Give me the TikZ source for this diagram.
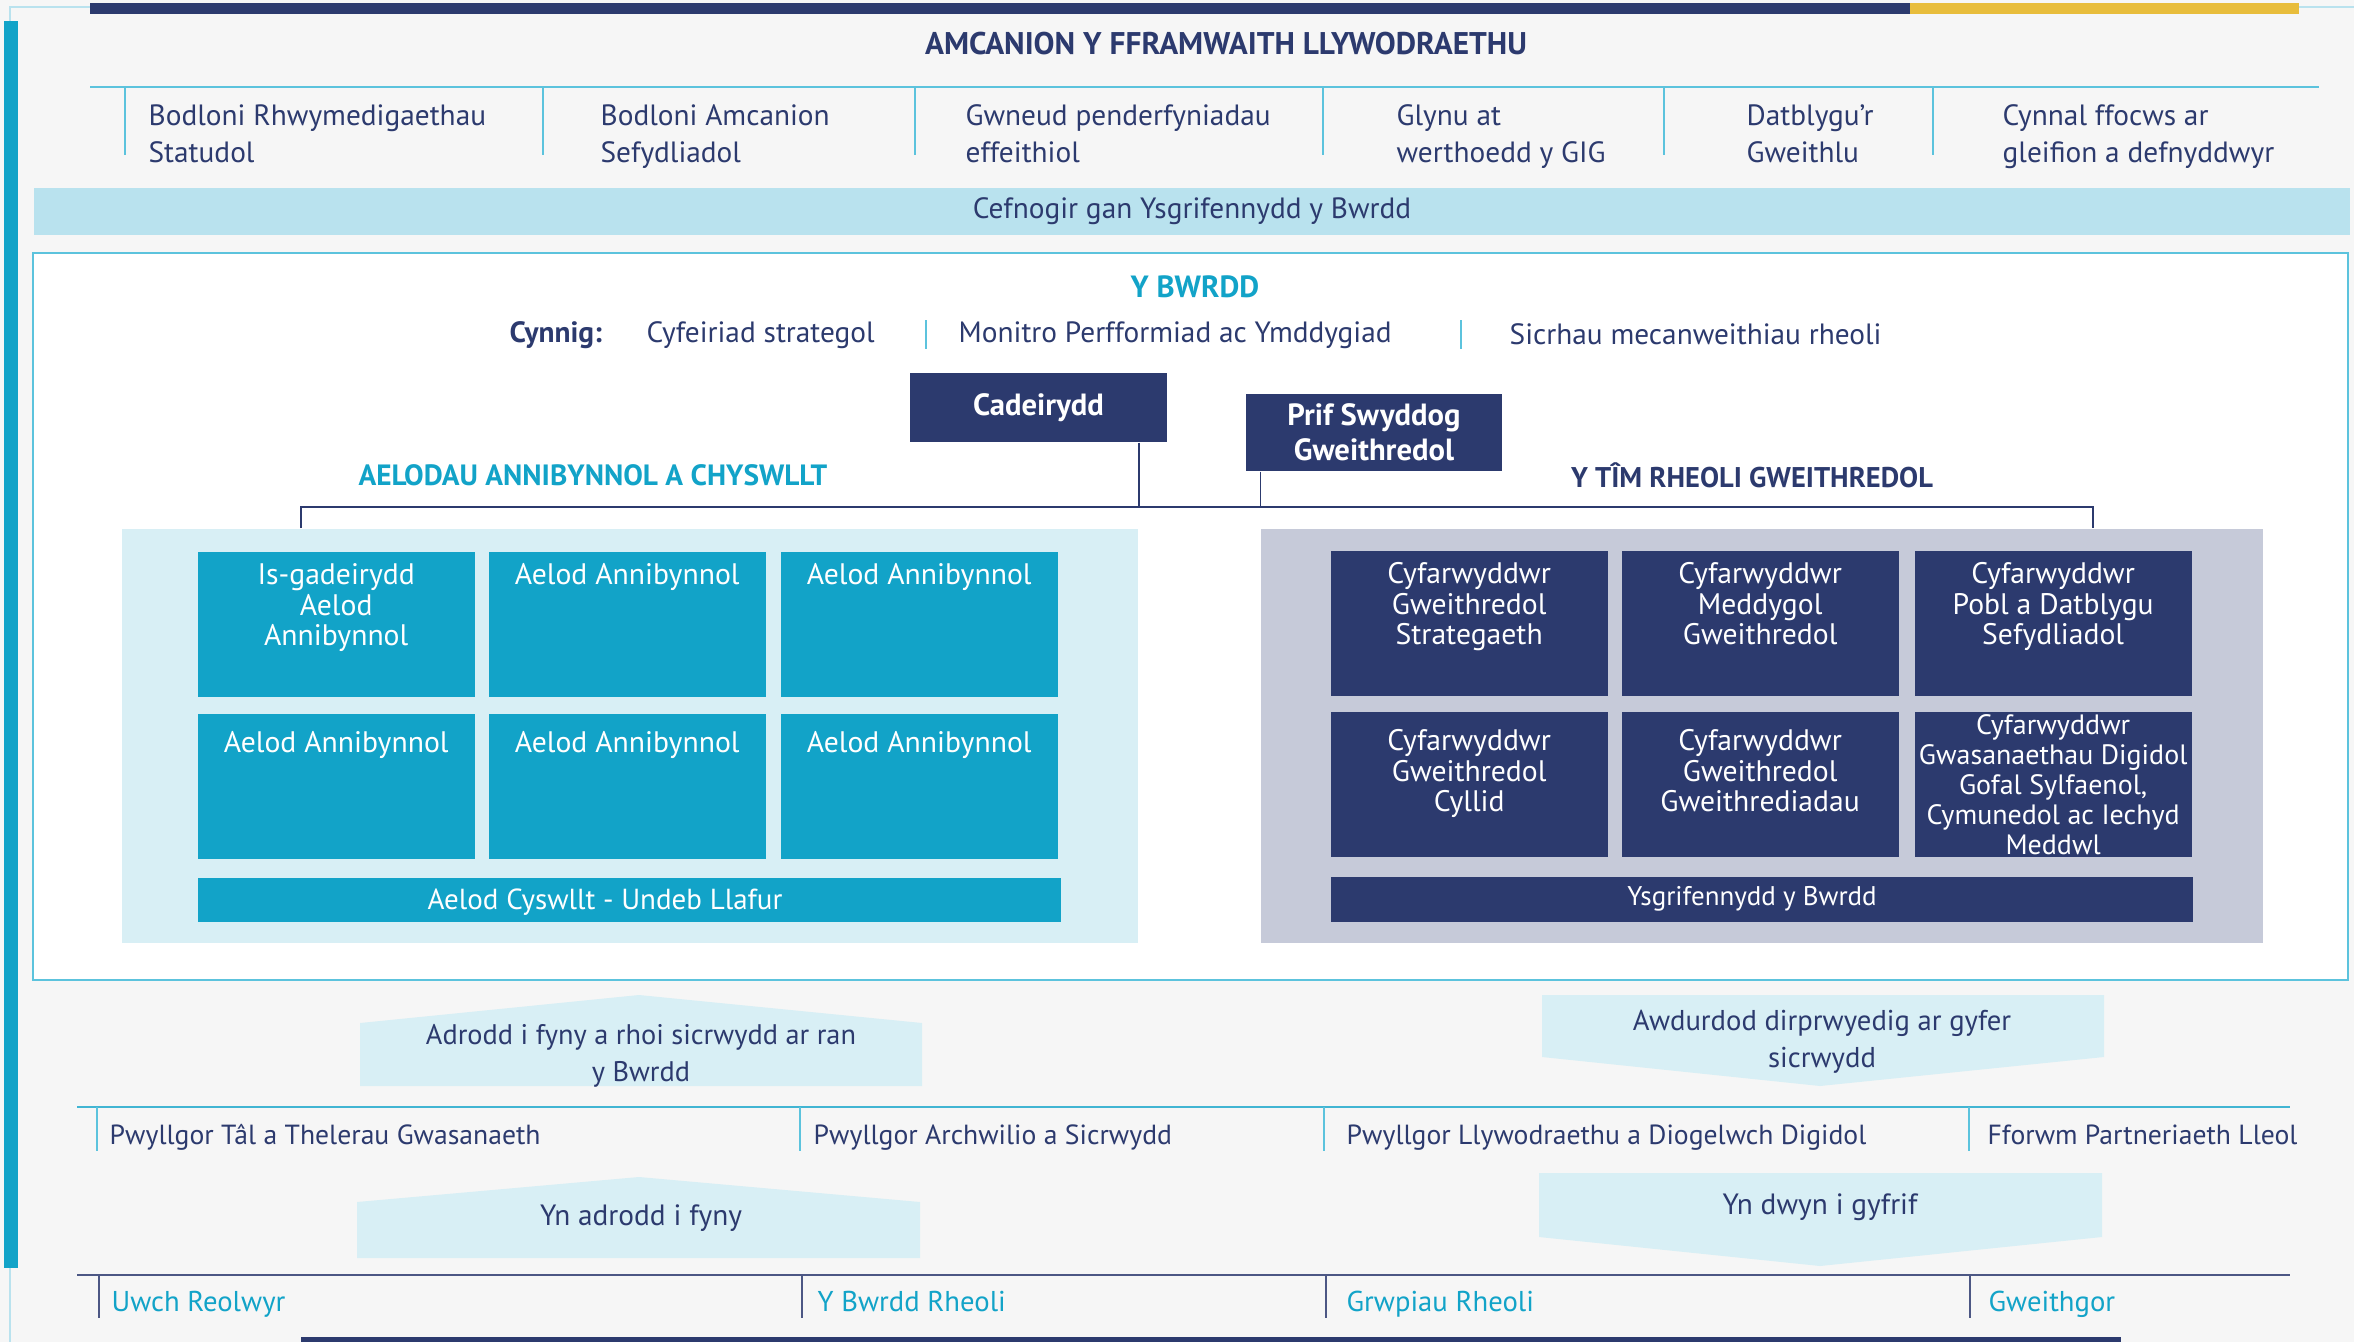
\documentclass[tikz,border=0pt]{standalone}
\usepackage{fontspec}
\setmainfont{PT Sans}
\usetikzlibrary{positioning}

\definecolor{bwnavy}{HTML}{2C3A6E}
\definecolor{bwcyan}{HTML}{12A3C8}
\definecolor{bwband}{HTML}{B9E2EE}
\definecolor{bwpale}{HTML}{D8EFF5}
\definecolor{bwgrey}{HTML}{C6CAD9}
\definecolor{bwgold}{HTML}{E8BD3C}
\definecolor{bwpage}{HTML}{F6F6F6}
\definecolor{bwrule}{HTML}{5CC3DD}

\tikzset{
  txt/.style={font=\fontsize{8.8}{11.1}\selectfont, text=bwnavy, inner sep=0pt},
  objtxt/.style={txt, anchor=west, align=left, execute at begin node=\strut, execute at end node=\strut},
  comtxt/.style={objtxt, font=\fontsize{8.3}{11.1}\selectfont},
  cbox/.style={fill=bwcyan, minimum width=83.1pt, minimum height=43.5pt, anchor=north west, inner sep=0pt},
  nbox/.style={cbox, fill=bwnavy},
  boxtxt/.style={font=\fontsize{8.9}{9.1}\selectfont, text=white, align=center, inner sep=0pt, execute at begin node=\strut},
  headbox/.style={fill=bwnavy, text=white, font=\fontsize{9.2}{10.6}\selectfont\bfseries, align=center, inner sep=0pt},
  orgline/.style={draw=bwnavy, line width=0.5pt},
  sepline/.style={draw=bwrule, line width=0.4pt},
  arrowfill/.style={fill=bwpale}
}

\begin{document}
\begin{tikzpicture}[x=0.3pt, y=-0.3pt]
    \useasboundingbox (0,0) rectangle (2354,1342);
    \fill[bwpage] (0,0) rectangle (2354,1342);
    \draw[bwband, line width=0.4pt] (10,1342) -- (10,7) -- (2354,7);
    \fill[bwcyan] (4,21) rectangle (18,1268);
    \fill[bwnavy] (90,3) rectangle (1910,14);
    \fill[bwgold] (1910,3) rectangle (2299,14);

    % objectives
    \node[txt, font=\fontsize{9.4}{10}\selectfont\bfseries] (title) at (1226,44) {AMCANION Y FFRAMWAITH LLYWODRAETHU};
    \coordinate (objL) at (90,87);
    \coordinate (objR) at (2319,87);
    \draw[bwrule, line width=0.6pt] (objL) -- (objR);
    \foreach \x in {125, 543, 915, 1323, 1664, 1933}
      \draw[sepline] (\x,87) -- (\x,155);
    \foreach [count=\i] \x/\words in {148/{Bodloni Rhwymedigaethau\\Statudol},
        600/{Bodloni Amcanion\\Sefydliadol}, 965/{Gwneud penderfyniadau\\effeithiol},
        1396/{Glynu at\\werthoedd y GIG}, 1746/{Datblygu’r\\Gweithlu},
        2002/{Cynnal ffocws ar\\gleifion a defnyddwyr}}
      \node[objtxt] (obj\i) at (\x,139) {\words};
    \node[txt, fill=bwband, minimum width=694.8pt, minimum height=14.1pt] (support) at (1192,211.5) {Cefnogir gan Ysgrifennydd y Bwrdd};

    % the board
    \draw[fill=white, draw=bwrule, line width=0.6pt] (33,253) rectangle (2348,980);
    \node[txt, text=bwcyan, font=\fontsize{9.2}{10}\selectfont\bfseries] (board) at (1195,287) {Y BWRDD};
    \node[txt, anchor=west, font=\fontsize{8.8}{10}\selectfont\bfseries] (purpose) at (509,335) {Cynnig:};
    \node[txt, anchor=west] (pur1) at (646,335) {Cyfeiriad strategol};
    \node[txt, anchor=west] (pur2) at (958,335) {Monitro Perfformiad ac Ymddygiad};
    \node[txt, anchor=west] (pur3) at (1509,334) {Sicrhau mecanweithiau rheoli};
    \foreach \x in {926, 1461}
      \draw[sepline, line width=0.6pt] (\x,320) -- (\x,349);

    \node[headbox, minimum width=77.1pt, minimum height=20.7pt] (chair) at (1038.5,407.5) {Cadeirydd};
    \node[headbox, minimum width=76.8pt, minimum height=23.1pt] (ceo) at (1374,432.5) {Prif Swyddog\\Gweithredol};
    \node[txt, text=bwcyan, font=\fontsize{8.8}{10}\selectfont\bfseries] (indhead) at (593,475) {AELODAU ANNIBYNNOL A CHYSWLLT};
    \node[txt, font=\fontsize{8.55}{10}\selectfont\bfseries] (exechead) at (1752,475) {Y TÎM RHEOLI GWEITHREDOL};

    \node[fill=bwpale, anchor=north west, minimum width=304.8pt, minimum height=124.2pt, inner sep=0pt] (indpanel) at (121,528) {};
    \node[fill=bwgrey, anchor=north west, minimum width=300.6pt, minimum height=124.2pt, inner sep=0pt] (execpanel) at (1260,528) {};

    \coordinate (busL) at (301,507);
    \coordinate (busR) at (2093,507);
    \draw[orgline] ([xshift=-8.7pt]chair.south east) -- ([xshift=-8.7pt]chair.south east |- busL);
    \draw[orgline] ([xshift=4.5pt]ceo.south west) -- ([xshift=4.5pt]ceo.south west |- busL);
    \draw[orgline] (busL |- indpanel.north) -- (busL) -- (busR) -- (busR |- execpanel.north);

    % independent members
    \foreach [count=\i] \x in {197, 488, 780}
      \foreach [count=\j] \y in {551, 713}
        \node[cbox] (ind\j\i) at (\x,\y) {};
    \node[boxtxt, below=3.6pt of ind11.north] (ind11t) {Is-gadeirydd\\Aelod\\Annibynnol};
    \foreach \b in {12, 13}
      \node[boxtxt, below=3.6pt of ind\b.north] (ind\b t) {Aelod Annibynnol};
    \foreach \b in {21, 22, 23}
      \node[boxtxt, below=5.2pt of ind\b.north] (ind\b t) {Aelod Annibynnol};
    \node[cbox, minimum width=258.9pt, minimum height=13.2pt, anchor=north west] (union) at (197,877) {};
    \node[boxtxt, font=\fontsize{8.7}{10}\selectfont, execute at begin node={}] (uniont) at (605,903) {Aelod Cyswllt - Undeb Llafur};

    % executive team
    \foreach [count=\i] \x in {1330, 1621, 1914}
      \foreach [count=\j] \y in {550, 711}
        \node[nbox] (exe\j\i) at (\x,\y) {};
    \foreach \b/\words in {11/{Cyfarwyddwr\\Gweithredol\\Strategaeth},
        12/{Cyfarwyddwr\\Meddygol\\Gweithredol}, 13/{Cyfarwyddwr\\Pobl a Datblygu\\Sefydliadol}}
      \node[boxtxt, below=3.6pt of exe\b.north] (exe\b t) {\words};
    \foreach \b/\words in {21/{Cyfarwyddwr\\Gweithredol\\Cyllid}, 22/{Cyfarwyddwr\\Gweithredol\\Gweithrediadau}}
      \node[boxtxt, below=5.4pt of exe\b.north] (exe\b t) {\words};
    \node[boxtxt, font=\fontsize{8.4}{9}\selectfont, below=1pt of exe23.north] (exe23t) {Cyfarwyddwr\\Gwasanaethau Digidol\\Gofal Sylfaenol,\\Cymunedol ac Iechyd\\Meddwl};
    \node[nbox, minimum width=258.6pt, minimum height=13.5pt] (secretary) at (1330,876) {};
    \node[boxtxt, font=\fontsize{8.1}{10}\selectfont, execute at begin node={}] (secretaryt) at (1752,899) {Ysgrifennydd y Bwrdd};

    % committees
    \fill[arrowfill] (360,1086) -- (360,1023) -- (639,995) -- (922,1023) -- (922,1086) -- cycle;
    \node[txt, align=center, font=\fontsize{8.5}{11.1}\selectfont] (upone) at (641,1056) {Adrodd i fyny a rhoi sicrwydd ar ran\\y Bwrdd};
    \fill[arrowfill] (1542,995) -- (2104,995) -- (2104,1057) -- (1820,1086) -- (1542,1057) -- cycle;
    \node[txt, align=center, font=\fontsize{8.6}{11.1}\selectfont] (downone) at (1822,1042) {Awdurdod dirprwyedig ar gyfer\\sicrwydd};

    \draw[bwcyan!80, line width=0.6pt] (77,1107) -- (2290,1107);
    \foreach \x in {97, 800, 1324, 1969}
      \draw[sepline] (\x,1107) -- (\x,1151);
    \foreach [count=\i] \x/\words in {109/{Pwyllgor Tâl a Thelerau Gwasanaeth},
        813/{Pwyllgor Archwilio a Sicrwydd}, 1346/{Pwyllgor Llywodraethu a Diogelwch Digidol},
        1987/{Fforwm Partneriaeth Lleol}}
      \node[comtxt] (com\i) at (\x,1137) {\words};

    \fill[arrowfill] (357,1258) -- (357,1202) -- (639,1177) -- (920,1202) -- (920,1258) -- cycle;
    \node[txt] (uptwo) at (641,1218) {Yn adrodd i fyny};
    \fill[arrowfill] (1539,1173) -- (2102,1173) -- (2102,1237) -- (1820,1266) -- (1539,1237) -- cycle;
    \node[txt] (downtwo) at (1820,1207) {Yn dwyn i gyfrif};

    % management groups
    \draw[bwnavy!85, line width=0.6pt] (77,1275) -- (2290,1275);
    \foreach \x in {99, 802, 1326, 1970}
      \draw[bwnavy!85, line width=0.4pt] (\x,1275) -- (\x,1318);
    \foreach [count=\i] \x/\words in {111/{Uwch Reolwyr}, 817/{Y Bwrdd Rheoli},
        1346/{Grwpiau Rheoli}, 1988/{Gweithgor}}
      \node[comtxt, text=bwcyan, font=\fontsize{8.6}{11.1}\selectfont] (grp\i) at (\x,1304) {\words};
    \fill[bwnavy] (301,1337) rectangle (2121,1342);
\end{tikzpicture}
\end{document}
